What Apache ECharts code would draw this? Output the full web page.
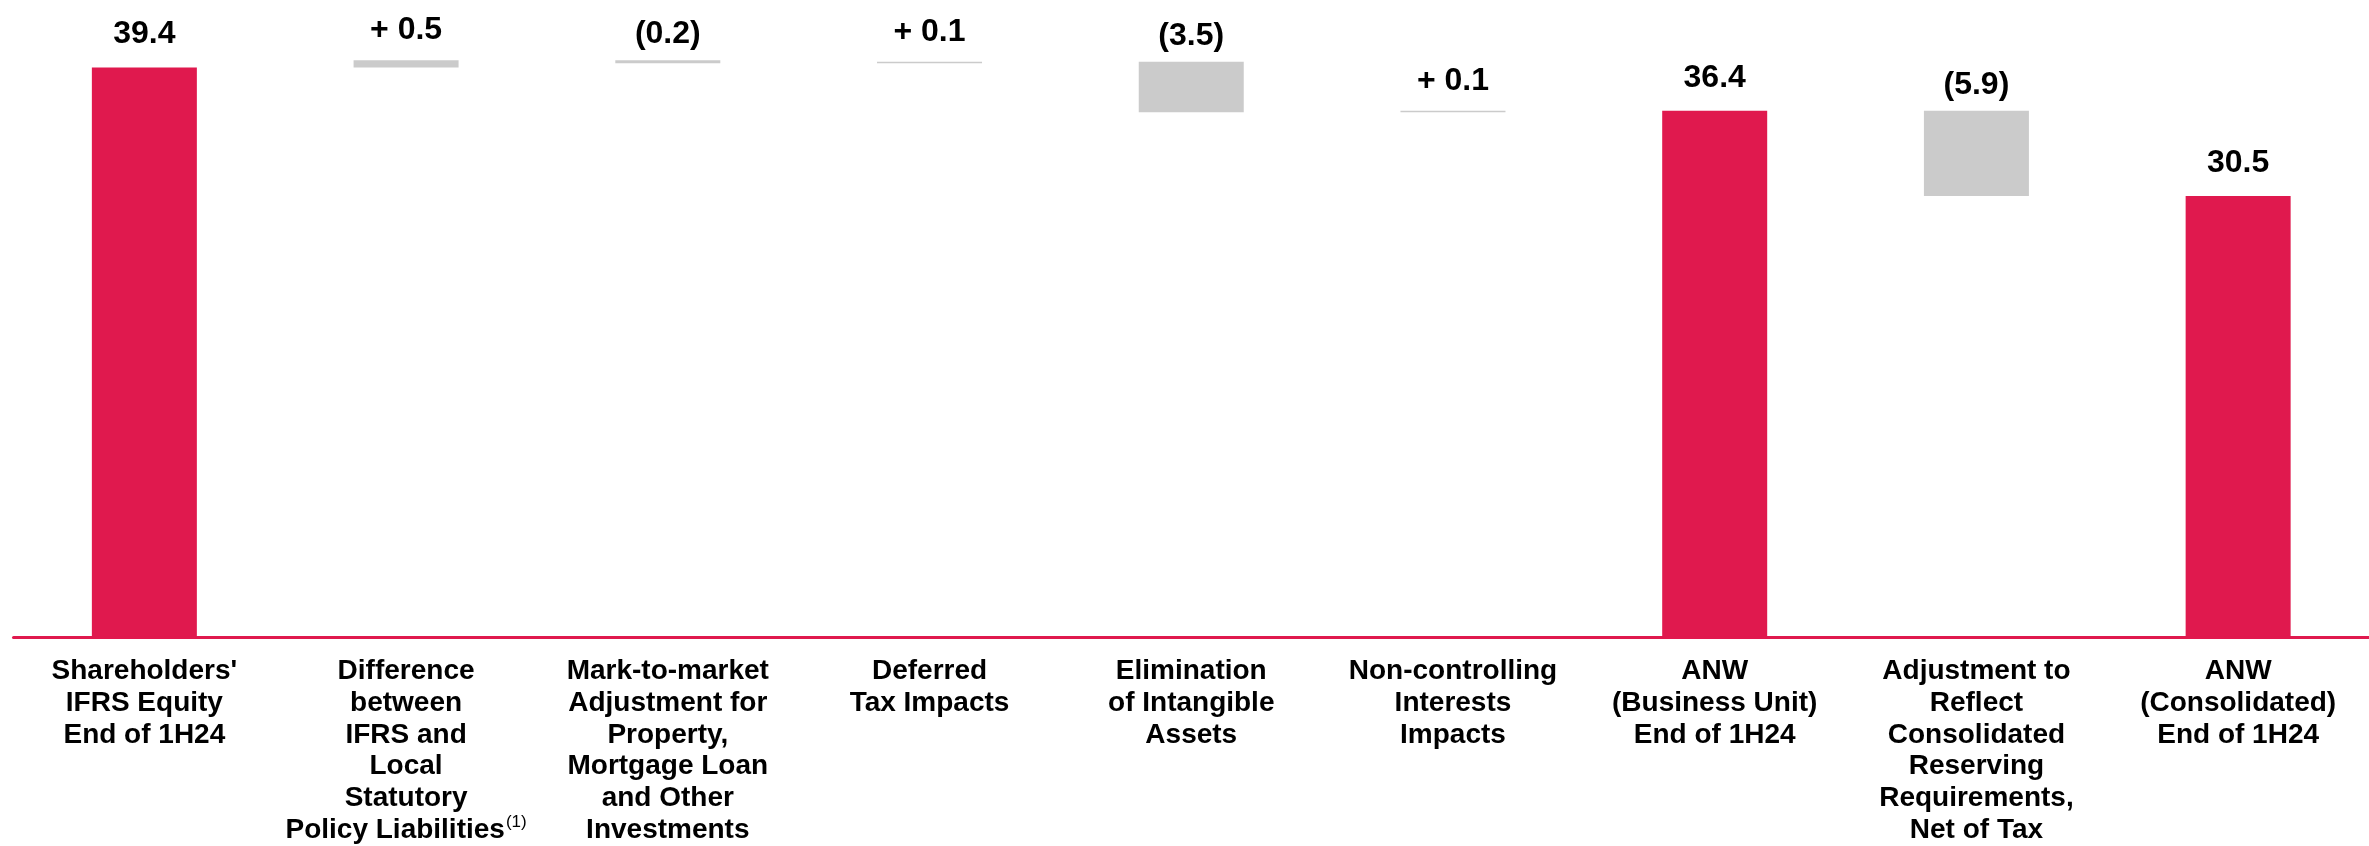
<!DOCTYPE html>
<html>
<head>
<meta charset="utf-8">
<script src="https://cdn.jsdelivr.net/npm/echarts@6/dist/echarts.min.js"></script>
<style>
  html, body { margin: 0; padding: 0; background: #ffffff; }
  #chart { width: 2369px; height: 846px; }
</style>
</head>
<body>
<div id="chart"></div>
<script>
// Bridge from IFRS equity to adjusted net worth (ANW)
const categories = [
  "Shareholders'\nIFRS Equity\nEnd of 1H24",
  "Difference\nbetween\nIFRS and\nLocal\nStatutory\nPolicy Liabilities{sup|(1)}",
  "Mark-to-market\nAdjustment for\nProperty,\nMortgage Loan\nand Other\nInvestments",
  "Deferred\nTax Impacts",
  "Elimination\nof Intangible\nAssets",
  "Non-controlling\nInterests\nImpacts",
  "ANW\n(Business Unit)\nEnd of 1H24",
  "Adjustment to\nReflect\nConsolidated\nReserving\nRequirements,\nNet of Tax",
  "ANW\n(Consolidated)\nEnd of 1H24"
];

// Subtotal columns (red); null where the step is an adjustment
const totals = [39.4, null, null, null, null, null, 36.4, null, 30.5];

// Signed adjustments (grey); null on subtotal columns
const changes = [null, 0.5, -0.2, 0.1, -3.5, 0.1, null, -5.9, null];

const RED = '#E0194E';
const GREY = '#CBCBCB';
const FONT = "'Liberation Sans', Arial, Helvetica, sans-serif";

// Build the invisible base, the grey steps and the red totals
const baseData = [], stepData = [], totalData = [];
let running = 0;
for (let i = 0; i < categories.length; i++) {
  if (totals[i] !== null) {
    running = totals[i];
    baseData.push('-');
    stepData.push('-');
    totalData.push(totals[i]);
  } else {
    const next = Math.round((running + changes[i]) * 10) / 10;
    baseData.push(Math.min(running, next));
    stepData.push({
      value: Math.abs(changes[i]),
      // decreases sit a little closer to their label
      label: { distance: changes[i] < 0 ? 10 : 14 }
    });
    totalData.push('-');
    running = next;
  }
}

function stepLabel(v) {
  return v >= 0 ? '+ ' + v.toFixed(1) : '(' + Math.abs(v).toFixed(1) + ')';
}

const chart = echarts.init(document.getElementById('chart'), null, { renderer: 'canvas' });

chart.setOption({
  backgroundColor: '#ffffff',
  animation: false,
  grid: { left: 13.5, width: 2377, top: 1, bottom: 209, containLabel: false },
  xAxis: {
    type: 'category',
    data: categories,
    axisLine: { show: true, lineStyle: { color: RED, width: 3 } },
    axisTick: { show: false },
    splitLine: { show: false },
    axisLabel: {
      interval: 0,
      margin: 19,
      color: '#000000',
      fontFamily: FONT,
      fontWeight: 'bold',
      fontSize: 28,
      lineHeight: 31.7,
      align: 'center',
      rich: {
        sup: {
          fontFamily: FONT,
          fontWeight: 'normal',
          fontSize: 17,
          color: '#000000',
          verticalAlign: 'top',
          padding: [0, 0, 10, 1]
        }
      }
    }
  },
  yAxis: {
    type: 'value',
    min: 0,
    max: 44,
    show: false,
    splitLine: { show: false }
  },
  series: [
    {
      name: 'base',
      type: 'bar',
      stack: 'bridge',
      barWidth: 105,
      silent: true,
      itemStyle: { color: 'rgba(0,0,0,0)' },
      data: baseData
    },
    {
      name: 'step',
      type: 'bar',
      stack: 'bridge',
      barWidth: 105,
      itemStyle: { color: GREY },
      label: {
        show: true,
        position: 'top',
        distance: 13,
        lineHeight: 32,
        fontFamily: FONT,
        fontWeight: 'bold',
        fontSize: 32,
        color: '#000000',
        formatter: p => stepLabel(changes[p.dataIndex])
      },
      data: stepData
    },
    {
      name: 'total',
      type: 'bar',
      stack: 'bridge',
      barWidth: 105,
      itemStyle: { color: RED },
      label: {
        show: true,
        position: 'top',
        distance: 17,
        lineHeight: 32,
        fontFamily: FONT,
        fontWeight: 'bold',
        fontSize: 32,
        color: '#000000',
        formatter: p => totals[p.dataIndex].toFixed(1)
      },
      data: totalData
    }
  ]
});
</script>
</body>
</html>
